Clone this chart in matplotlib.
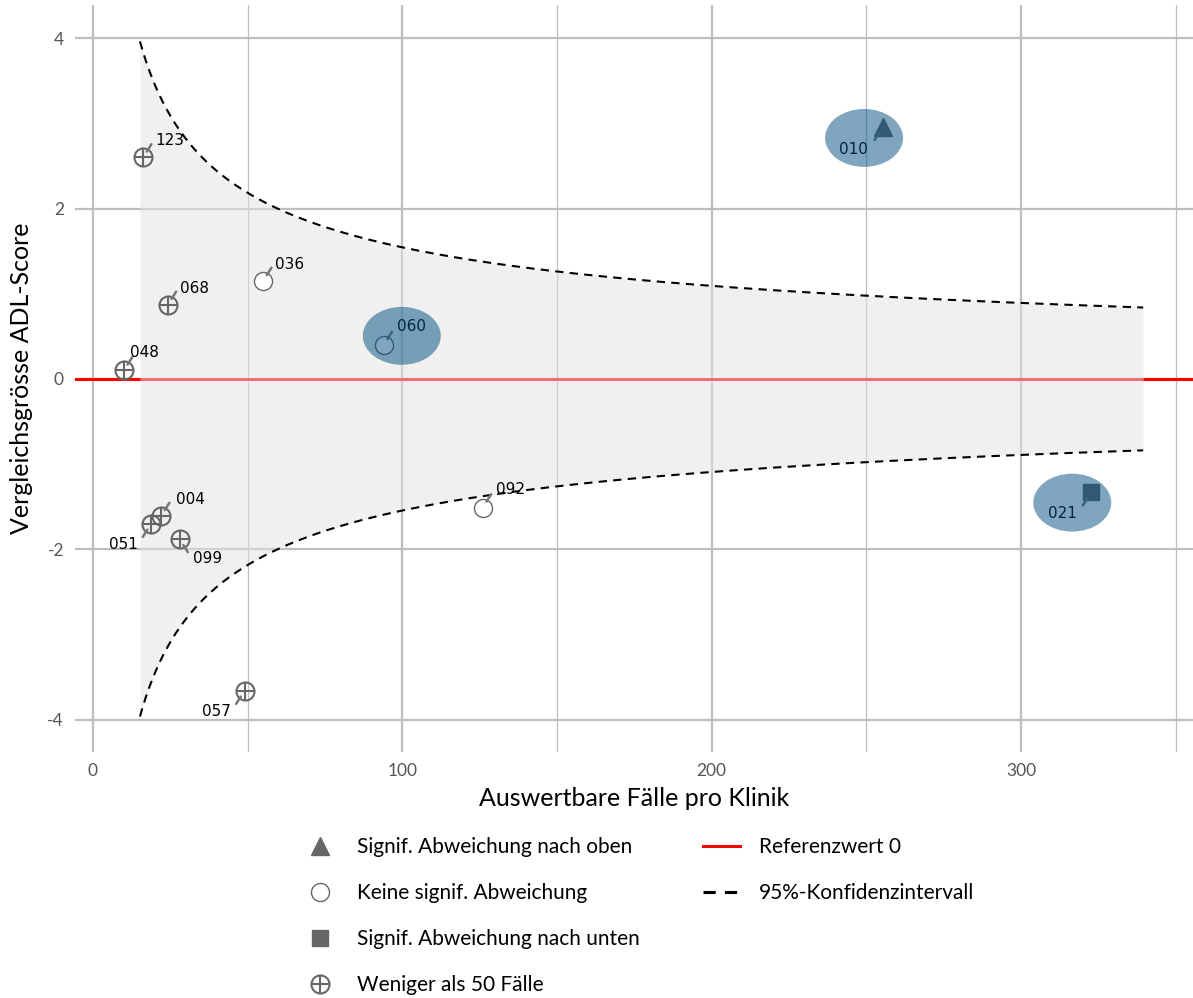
import numpy as np
import matplotlib
matplotlib.use("Agg")
import matplotlib.pyplot as plt
from matplotlib.patches import Ellipse
from matplotlib.lines import Line2D

# ---------------- data ----------------
clinic_ids = ["123", "068", "048", "036", "060", "092", "004", "051", "099", "057", "010", "021"]
cases      = [16.2, 24.2, 10.0, 55.0, 94.0, 126.0, 22.0, 18.8, 28.0, 49.0, 255.4, 322.7]
scores     = [2.60, 0.87, 0.10, 1.15, 0.40, -1.51, -1.61, -1.70, -1.88, -3.66, 2.96, -1.33]
groups     = ["few", "few", "few", "none", "none", "none", "few", "few", "few", "few", "up", "down"]
highlighted = ["060", "010", "021"]
# label offsets (points) relative to each marker
label_dx = [19, 19, 15, 19, 20, 20, 21, -20, 20, -20, -21, -21]
label_dy = [12, 12, 13, 12, 13, 13, 12, -15, -14, -15, -16, -15]

ci_const = 15.45          # CI half-width = ci_const / sqrt(n)
ci_n_min, ci_n_max = 15.2, 339.5
reference_value = 0

x_ticks = [0, 100, 200, 300]
x_minor = [50, 150, 250, 350]
y_ticks = [-4, -2, 0, 2, 4]

legend_labels = ["Signif. Abweichung nach oben", "Keine signif. Abweichung",
                 "Signif. Abweichung nach unten", "Weniger als 50 Fälle",
                 "Referenzwert 0", "95%-Konfidenzintervall"]

# ---------------- figure ----------------
TXT = "Lato"
fig = plt.figure(figsize=(11.93, 9.98), dpi=100)
ax = fig.add_axes([75 / 1193, 1 - 752 / 998, 1 - 75 / 1193, (752 - 5) / 998])
ax.set_xlim(-5.8, 355.6)
ax.set_ylim(-4.38, 4.39)
for s in ax.spines.values():
    s.set_visible(False)

# grid
for xv in x_ticks:
    ax.axvline(xv, color="#BEBEBE", lw=1.6, zorder=0)
for xv in x_minor:
    ax.axvline(xv, color="#BEBEBE", lw=0.9, zorder=0)
for yv in y_ticks:
    ax.axhline(yv, color="#BEBEBE", lw=1.6, zorder=0)

ax.set_xticks(x_ticks)
ax.set_yticks(y_ticks)
ax.set_xticklabels([str(v) for v in x_ticks])
ax.set_yticklabels([str(v) for v in y_ticks])
ax.tick_params(axis="both", length=0, labelsize=12.5, labelcolor="#555555", pad=8)
for t in ax.get_xticklabels() + ax.get_yticklabels():
    t.set_fontfamily(TXT)

# reference line
ax.axhline(reference_value, color="#FF0000", lw=2.2, zorder=1)

# CI funnel
n = np.linspace(ci_n_min, ci_n_max, 400)
hw = ci_const / np.sqrt(n)
ax.fill_between(n, -hw, hw, color="#E3E3E3", alpha=0.5, lw=0, zorder=2)
ax.plot(n, hw, color="black", lw=1.5, ls=(0, (4, 3)), zorder=3)
ax.plot(n, -hw, color="black", lw=1.5, ls=(0, (4, 3)), zorder=3)

GRAY = "#666666"
ms = 13
for cid, x, y, g, dx, dy in zip(clinic_ids, cases, scores, groups, label_dx, label_dy):
    if g == "up":
        ax.plot(x, y, marker="^", ms=ms, color=GRAY, mec=GRAY, ls="none", zorder=5)
    elif g == "down":
        ax.plot(x, y, marker="s", ms=ms * 0.9, color=GRAY, mec=GRAY, ls="none", zorder=5)
    elif g == "none":
        ax.plot(x, y, marker="o", ms=ms, mfc="white", mec=GRAY, mew=1.0, ls="none", zorder=5)
    else:
        ax.plot(x, y, marker="o", ms=ms, mfc="none", mec=GRAY, mew=1.5, ls="none", zorder=5)
        ax.plot(x, y, marker="+", ms=ms, mec=GRAY, mew=1.5, ls="none", zorder=5)
    # leader segment (ggrepel style)
    sx = 6.0 if dx > 0 else -6.0
    sy = 9.5 if dy > 0 else -9.5
    ax.annotate("", xy=(x, y), xytext=(sx, sy), textcoords="offset points", zorder=6,
                arrowprops=dict(arrowstyle="-", color="#777777", lw=1.8,
                                shrinkA=0, shrinkB=5))
    ax.annotate(cid, xy=(x, y), xytext=(dx, dy), textcoords="offset points",
                ha="center", va="center", fontsize=11, family="DejaVu Sans",
                color="black", zorder=6)

# highlight ellipses (around point and its label)
for cid, x, y, dx, dy in zip(clinic_ids, cases, scores, label_dx, label_dy):
    if cid in highlighted:
        px, py = ax.transData.transform((x, y))
        cx, cy = ax.transData.inverted().transform((px + 0.65 * dx / 0.72,
                                                    py + 0.5 * dy / 0.72))
        ax.add_patch(Ellipse((cx, cy), 25.2, 0.68, facecolor="#004E7F", alpha=0.5,
                             lw=0, zorder=8))

ax.set_xlabel("Auswertbare Fälle pro Klinik", fontsize=18, family=TXT, labelpad=6)
ax.set_ylabel("Vergleichsgrösse ADL-Score", fontsize=18, family=TXT, labelpad=10)

# legend
h_up = Line2D([], [], marker="^", ms=13, color=GRAY, ls="none")
h_none = Line2D([], [], marker="o", ms=13, mfc="white", mec=GRAY, mew=1.0, ls="none")
h_down = Line2D([], [], marker="s", ms=12, color=GRAY, ls="none")
h_few1 = Line2D([], [], marker="o", ms=13, mfc="none", mec=GRAY, mew=1.5, ls="none")
h_few2 = Line2D([], [], marker="+", ms=13, mec=GRAY, mew=1.5, ls="none")
h_ref = Line2D([], [], color="#FF0000", lw=2.2)
h_ci = Line2D([], [], color="black", lw=2.2, ls=(0, (4, 3)))
h_blank = Line2D([], [], color="none")
leg = fig.legend([h_up, h_none, h_down, (h_few1, h_few2), h_ref, h_ci, h_blank, h_blank],
                 legend_labels + ["", ""], ncol=2, loc="upper left",
                 bbox_to_anchor=(301 / 1193, 1 - 837 / 998), frameon=False,
                 prop={"family": TXT, "size": 15}, labelspacing=1.25,
                 handlelength=1.8, handletextpad=0.9, columnspacing=3.0,
                 borderpad=0, borderaxespad=0)

fig.savefig("out.png", dpi=100)
